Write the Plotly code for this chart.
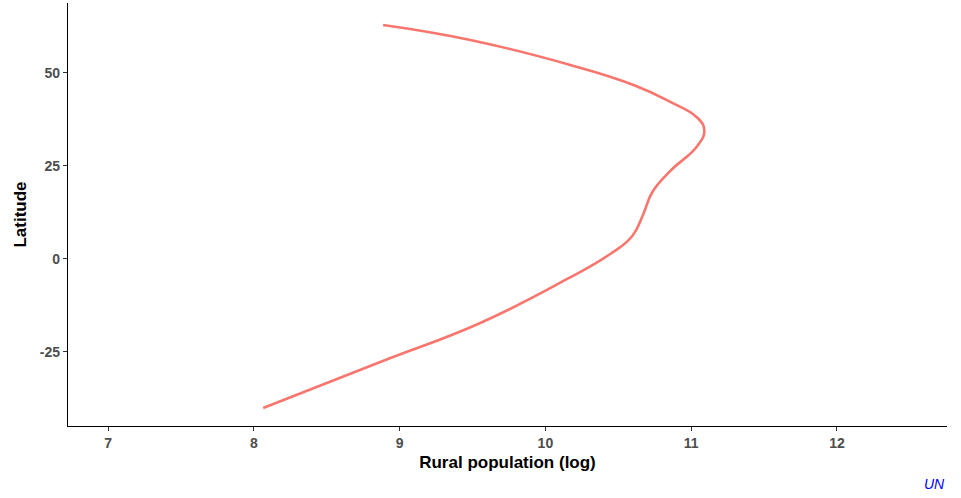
import plotly.graph_objects as go

latitude = [-40.05, -27.69, -17.20, -5.38, 1.34, 6.18, 12.10, 18.01, 23.66, 30.38, 34.68, 38.17, 42.20, 46.77, 52.15, 58.87, 62.90]
rural_log = [8.064, 8.867, 9.553, 10.150, 10.445, 10.596, 10.672, 10.734, 10.857, 11.042, 11.090, 11.036, 10.857, 10.605, 10.171, 9.485, 8.887]

x_ticks = [7, 8, 9, 10, 11, 12]
y_ticks = [-25, 0, 25, 50]
y_tick_labels = ["-25", "0", "25", "50"]

fig = go.Figure()
fig.add_trace(go.Scatter(
    x=rural_log, y=latitude, mode="lines",
    line=dict(color="#F8766D", width=2.6, shape="spline", smoothing=1.3),
    showlegend=False, hoverinfo="skip",
))

axis_common = dict(
    showgrid=False, zeroline=False, showline=True, linecolor="black", linewidth=1.2,
    ticks="outside", ticklen=4, tickcolor="#333333", tickwidth=1, automargin=False,
    tickfont=dict(family="Liberation Sans, Arial", size=14, color="#4d4d4d", weight="bold"),
)

fig.update_layout(
    width=961, height=498,
    paper_bgcolor="white", plot_bgcolor="white",
    margin=dict(l=68, r=14, t=3, b=72),
    xaxis=dict(range=[6.725, 12.755], tickvals=x_ticks,
               title=dict(text="<b>Rural population (log)</b>", font=dict(family="Liberation Sans, Arial", size=17, color="black"), standoff=6),
               **axis_common),
    yaxis=dict(range=[-44.9, 68.8], tickvals=y_ticks, ticktext=y_tick_labels,
               title=dict(text="<b>Latitude</b>", font=dict(family="Liberation Sans, Arial", size=17, color="black"), standoff=8),
               **axis_common),
    annotations=[dict(text="<i>UN</i>", xref="paper", yref="paper", x=1.0, y=-0.137,
                      xanchor="right", yanchor="middle", showarrow=False,
                      font=dict(family="Liberation Sans, Arial", size=14, color="blue"))],
)

fig.write_html("out.html", config={"displayModeBar": False},
               post_script="document.body.style.margin='0';document.body.style.overflow='hidden';")
